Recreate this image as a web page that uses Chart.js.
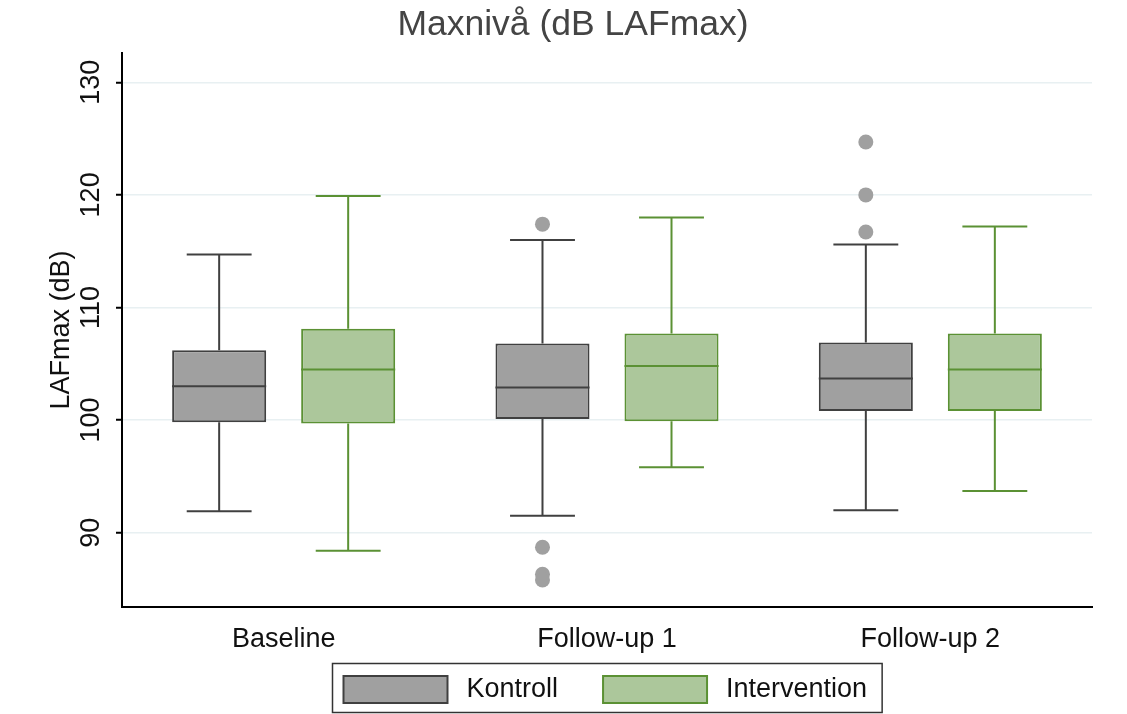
<!DOCTYPE html>
<html>
<head>
<meta charset="utf-8">
<script src="https://cdn.jsdelivr.net/npm/chart.js@4/dist/chart.umd.min.js"></script>
<style>
  html, body { margin: 0; padding: 0; background: #fff; }
  #wrap { width: 1127px; height: 714px; }
</style>
</head>
<body>
<div id="wrap"><canvas id="boxCanvas" width="1127" height="714"></canvas></div>
<script>
// categories and tick labels
const categories = ['Baseline', 'Follow-up 1', 'Follow-up 2'];
const yTicks = [90, 100, 110, 120, 130];
const yMin = 83.4;
const yMax = 132.6;

// Kontroll
const kontrollLow = [91.9, 91.5, 92.0];
const kontrollQ1 = [99.8, 100.1, 100.8];
const kontrollMedian = [103.0, 102.9, 103.7];
const kontrollQ3 = [106.2, 106.8, 106.9];
const kontrollHigh = [114.7, 116.0, 115.6];
const kontrollOutliers = [[], [117.4, 88.7, 86.3, 85.8], [124.7, 120.0, 116.7]];

// Intervention
const interventionLow = [88.4, 95.8, 93.7];
const interventionQ1 = [99.7, 99.9, 100.8];
const interventionMedian = [104.5, 104.8, 104.5];
const interventionQ3 = [108.1, 107.7, 107.7];
const interventionHigh = [119.9, 118.0, 117.2];
const interventionOutliers = [[], [], []];

Chart.defaults.font.family = "'Liberation Sans', Arial, sans-serif";
Chart.defaults.color = '#111';

// whiskers, median, outliers and the framed legend
const boxPlotExtras = {
    id: 'boxPlotExtras',
    afterDatasetsDraw(chart) {
        const ctx = chart.ctx;
        const yScale = chart.scales.y;
        chart.data.datasets.forEach(function(ds, di) {
            const meta = chart.getDatasetMeta(di);
            meta.data.forEach(function(bar, i) {
                const half = bar.width / 2;
                const cap = bar.width * 0.345;
                const pLow = yScale.getPixelForValue(ds.low[i]);
                const pHigh = yScale.getPixelForValue(ds.high[i]);
                const pQ1 = yScale.getPixelForValue(ds.q1[i]);
                const pQ3 = yScale.getPixelForValue(ds.q3[i]);
                const pMed = yScale.getPixelForValue(ds.median[i]);
                ctx.save();
                ctx.strokeStyle = ds.borderColor;
                ctx.lineWidth = 2;
                ctx.beginPath();
                ctx.moveTo(bar.x, pQ3); ctx.lineTo(bar.x, pHigh);
                ctx.moveTo(bar.x - cap, pHigh); ctx.lineTo(bar.x + cap, pHigh);
                ctx.moveTo(bar.x, pQ1); ctx.lineTo(bar.x, pLow);
                ctx.moveTo(bar.x - cap, pLow); ctx.lineTo(bar.x + cap, pLow);
                ctx.moveTo(bar.x - half, pMed); ctx.lineTo(bar.x + half, pMed);
                ctx.stroke();
                ctx.fillStyle = ds.outlierColor;
                ds.outliers[i].forEach(function(v) {
                    ctx.beginPath();
                    ctx.arc(bar.x, yScale.getPixelForValue(v), 7.5, 0, Math.PI * 2);
                    ctx.fill();
                });
                ctx.restore();
            });
        });
    },
    afterDraw(chart) {
        const ctx = chart.ctx;
        const area = chart.chartArea;
        ctx.save();
        ctx.font = "27px 'Liberation Sans', Arial, sans-serif";
        const patchW = 104, patchH = 27, gap = 19, itemGap = 45, padL = 11, padR = 15;
        const items = chart.data.datasets.map(function(ds) {
            return { ds: ds, w: ctx.measureText(ds.label).width };
        });
        let total = padL + padR + itemGap * (items.length - 1);
        items.forEach(function(it) { total += patchW + gap + it.w; });
        const left = Math.round((area.left + area.right) / 2 - total / 2) + 0.5;
        const top = chart.height - 50.5;
        ctx.strokeStyle = '#333';
        ctx.lineWidth = 1.5;
        ctx.strokeRect(left, top, total, 49);
        let x = left + padL;
        const yMid = top + 26;
        items.forEach(function(it) {
            ctx.fillStyle = it.ds.backgroundColor;
            ctx.fillRect(x, yMid - patchH / 2, patchW, patchH);
            ctx.strokeStyle = it.ds.borderColor;
            ctx.lineWidth = 2;
            ctx.strokeRect(x, yMid - patchH / 2, patchW, patchH);
            ctx.fillStyle = '#111';
            ctx.textBaseline = 'middle';
            ctx.textAlign = 'left';
            ctx.fillText(it.ds.label, x + patchW + gap, yMid);
            x += patchW + gap + it.w + itemGap;
        });
        ctx.restore();
    }
};

function boxData(q1, q3) {
    return categories.map(function(c, i) { return [q1[i], q3[i]]; });
}

const boxCanvas = document.getElementById('boxCanvas').getContext('2d');
const boxChart = new Chart(boxCanvas, {
    type: 'bar',
    data: {
        labels: categories,
        datasets: [{
            label: 'Kontroll',
            data: boxData(kontrollQ1, kontrollQ3),
            low: kontrollLow, q1: kontrollQ1, median: kontrollMedian, q3: kontrollQ3, high: kontrollHigh,
            outliers: kontrollOutliers,
            backgroundColor: '#a0a0a0',
            borderColor: '#404040',
            outlierColor: '#a0a0a0',
            borderWidth: 2,
            borderSkipped: false
        }, {
            label: 'Intervention',
            data: boxData(interventionQ1, interventionQ3),
            low: interventionLow, q1: interventionQ1, median: interventionMedian, q3: interventionQ3, high: interventionHigh,
            outliers: interventionOutliers,
            backgroundColor: '#acc79b',
            borderColor: '#5b9134',
            outlierColor: '#acc79b',
            borderWidth: 2,
            borderSkipped: false
        }]
    },
    options: {
        responsive: false,
        animation: false,
        categoryPercentage: 0.798,
        barPercentage: 0.729,
        layout: { padding: { left: 19, right: 0, top: 0, bottom: 51 } },
        plugins: {
            legend: { display: false },
            tooltip: { enabled: false },
            title: {
                display: true,
                text: 'Maxnivå (dB LAFmax)',
                color: '#444',
                font: { size: 35.5, weight: 'normal' },
                padding: { top: 4, bottom: 6.4 }
            }
        },
        scales: {
            x: {
                grid: { display: false },
                border: { color: '#000', width: 2 },
                ticks: { font: { size: 27 }, color: '#111', padding: 8 },
                afterFit: function(scale) {
                    scale.height = 56;
                    scale.paddingRight = 35;
                }
            },
            y: {
                min: yMin,
                max: yMax,
                afterBuildTicks: function(scale) {
                    scale.ticks = yTicks.map(function(v) { return { value: v }; });
                },
                afterFit: function(scale) { scale.width = 103; },
                grid: { color: '#e8f0f2', lineWidth: 1.5, tickColor: '#000', tickWidth: 2, tickLength: 6 },
                border: { color: '#000', width: 2 },
                ticks: { font: { size: 27 }, color: '#111', minRotation: 90, maxRotation: 90, crossAlign: 'center', padding: 2 },
                title: {
                    display: true,
                    text: 'LAFmax (dB)',
                    font: { size: 27 },
                    color: '#111',
                    padding: { top: 26, bottom: 0 }
                }
            }
        }
    },
    plugins: [boxPlotExtras]
});
</script>
</body>
</html>
